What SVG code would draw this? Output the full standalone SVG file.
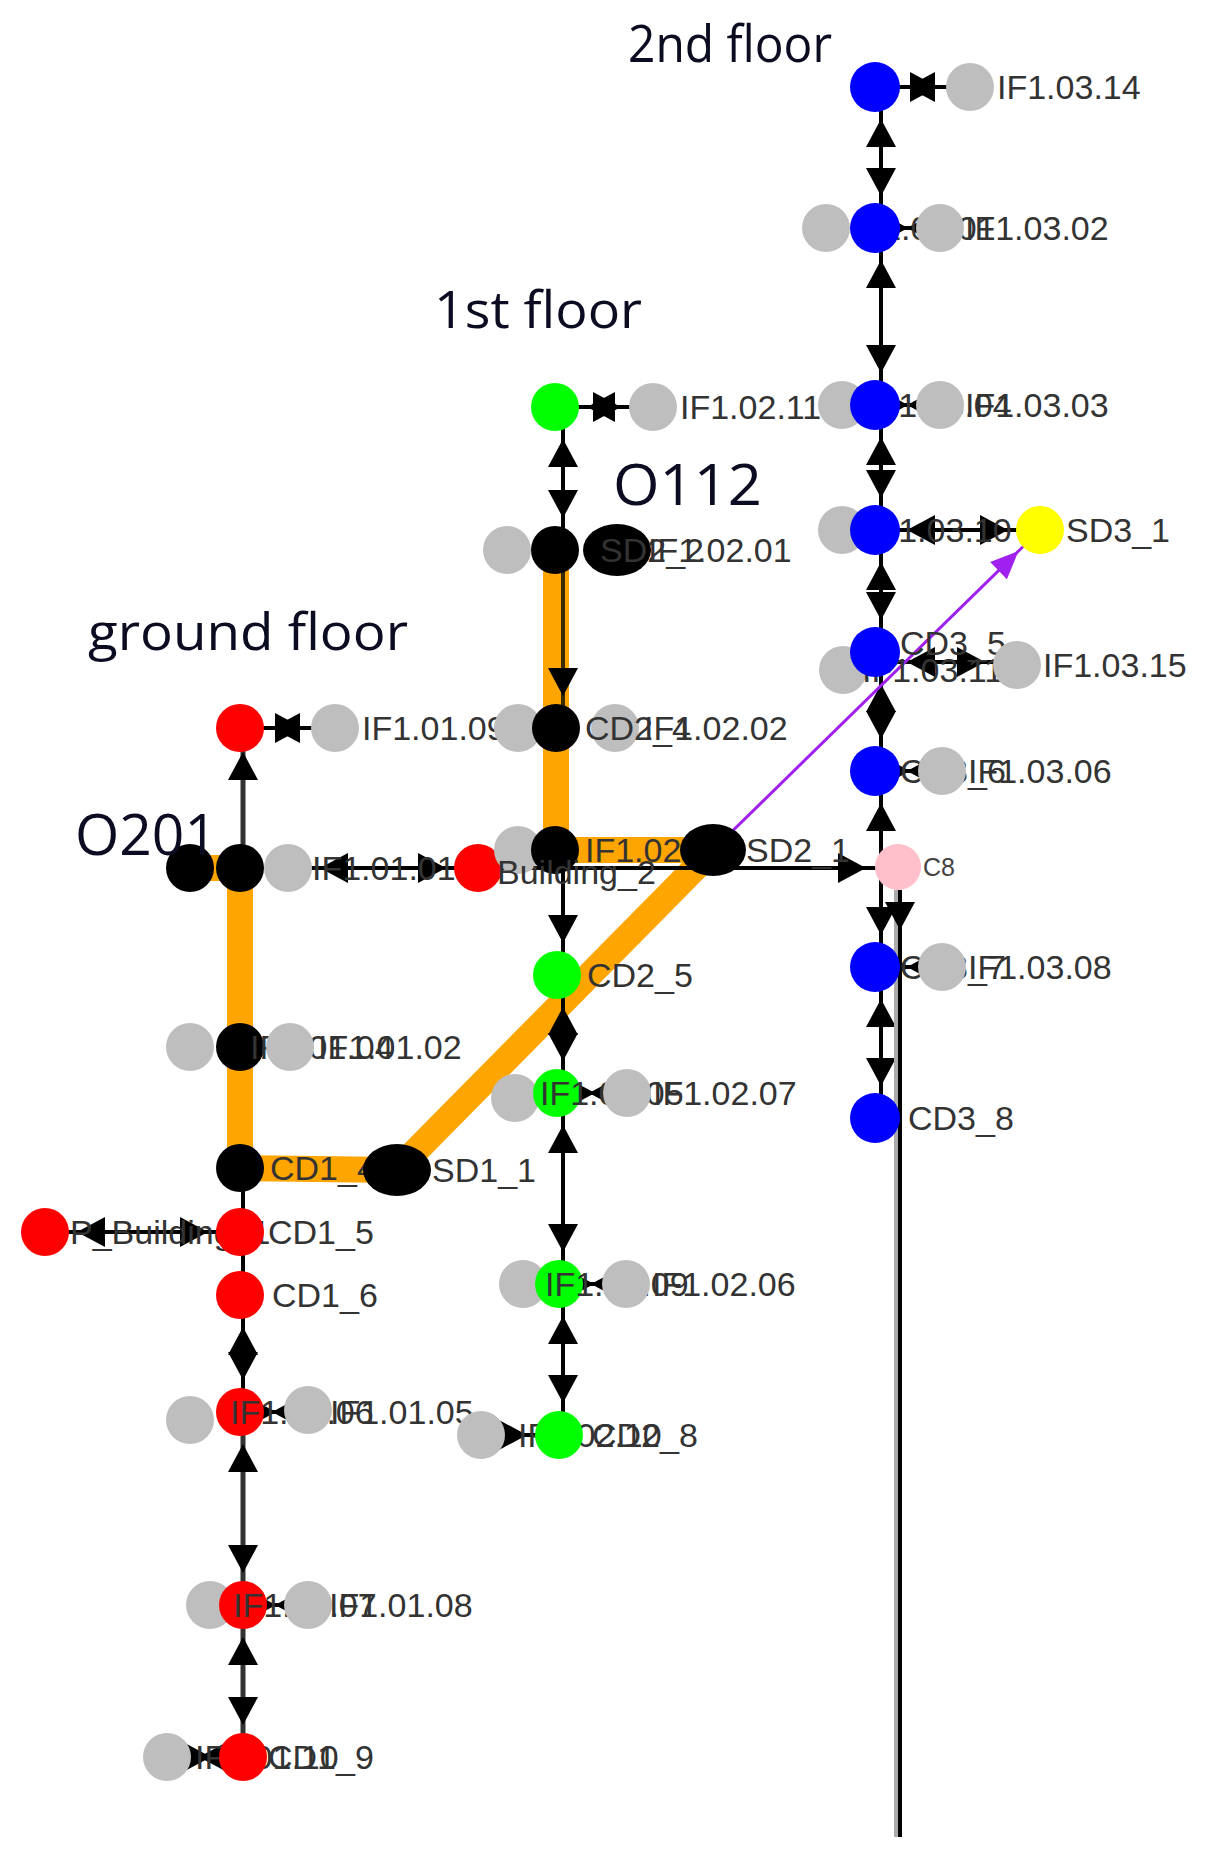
<svg xmlns="http://www.w3.org/2000/svg" width="1216" height="1864" viewBox="0 0 1216 1864">
<style>
.lb{font-family:"Liberation Sans",Arial,sans-serif;font-size:34px;fill:#333}
.sm{font-family:"Liberation Sans",Arial,sans-serif;font-size:25px;fill:#444}
.tt{font-family:"Open Sans","Liberation Sans",sans-serif;font-size:52px;fill:#0b0b22}
.big{font-size:56px}
.e{stroke:#000;stroke-width:4;fill:none}
.gy{fill:#bebebe}.bl{fill:#0000ff}.rd{fill:#ff0000}.gn{fill:#00ff00}.bk{fill:#000}.yl{fill:#ffff00}.pk{fill:#ffc0cb}
</style>
<defs>
<marker id="ah" markerUnits="userSpaceOnUse" markerWidth="80" markerHeight="80" refX="32" refY="0" orient="auto-start-reverse" overflow="visible"><path d="M0,0 L-28,-15 L-28,15 Z" fill="#000"/></marker>
<marker id="ap" markerUnits="userSpaceOnUse" markerWidth="80" markerHeight="80" refX="30" refY="0" orient="auto" overflow="visible"><path d="M0,0 L-28,-12 L-28,12 Z" fill="#a020f0"/></marker>
</defs>
<rect width="1216" height="1864" fill="#fff"/>
<g id="connectors">
<path d="M190,868 L240,868 L240,1168 L397,1170 L713,850 L556,850 L556,728 L556,550" stroke="#ffa500" stroke-width="26" fill="none" stroke-linejoin="round"/>
<path class="e" d="M881,87 V228" marker-start="url(#ah)" marker-end="url(#ah)"/>
<path class="e" d="M881,228 V405" marker-start="url(#ah)" marker-end="url(#ah)"/>
<path class="e" d="M881,405 V530" marker-start="url(#ah)" marker-end="url(#ah)"/>
<path class="e" d="M881,530 V652" marker-start="url(#ah)" marker-end="url(#ah)"/>
<path class="e" d="M881,652 V771" marker-start="url(#ah)" marker-end="url(#ah)"/>
<path class="e" d="M881,867 V771" marker-end="url(#ah)"/>
<path class="e" d="M881,867 V967" marker-end="url(#ah)"/>
<path class="e" d="M881,967 V1118" marker-start="url(#ah)" marker-end="url(#ah)"/>
<path d="M896,890 V1837" stroke="#aaa" stroke-width="4"/>
<path class="e" d="M900,890 V962" marker-end="url(#ah)"/>
<path class="e" d="M900,962 V1837"/>
<path class="e" d="M875,87 H970" marker-start="url(#ah)" marker-end="url(#ah)"/>
<path class="e" d="M875,228 H940" marker-start="url(#ah)" marker-end="url(#ah)"/>
<path class="e" d="M875,405 H940" marker-start="url(#ah)" marker-end="url(#ah)"/>
<path class="e" d="M875,530 H1040" marker-start="url(#ah)" marker-end="url(#ah)"/>
<path class="e" d="M875,662 H1017" marker-start="url(#ah)" marker-end="url(#ah)"/>
<path class="e" d="M875,771 H942" marker-start="url(#ah)" marker-end="url(#ah)"/>
<path class="e" d="M875,967 H942" marker-start="url(#ah)" marker-end="url(#ah)"/>
<path class="e" d="M478,868 H898" marker-end="url(#ah)"/>
<path d="M713,850 L1040,530" stroke="#a020f0" stroke-width="3" fill="none" marker-end="url(#ap)"/>
<path d="M243,868 V720" stroke="#333" stroke-width="5" fill="none" marker-end="url(#ah)"/>
<path class="e" d="M243,1168 V1295"/>
<path class="e" d="M243,1295 V1412" marker-start="url(#ah)" marker-end="url(#ah)"/>
<path d="M243,1412 V1605" stroke="#333" stroke-width="5" fill="none" marker-start="url(#ah)" marker-end="url(#ah)"/>
<path d="M243,1605 V1757" stroke="#333" stroke-width="5" fill="none" marker-start="url(#ah)" marker-end="url(#ah)"/>
<path class="e" d="M240,728 H335" marker-start="url(#ah)" marker-end="url(#ah)"/>
<path class="e" d="M288,868 H478" marker-start="url(#ah)" marker-end="url(#ah)"/>
<path class="e" d="M45,1232 H240" marker-start="url(#ah)" marker-end="url(#ah)"/>
<path class="e" d="M240,1412 H308" marker-start="url(#ah)" marker-end="url(#ah)"/>
<path class="e" d="M243,1605 H308" marker-start="url(#ah)" marker-end="url(#ah)"/>
<path class="e" d="M167,1757 H243" marker-start="url(#ah)" marker-end="url(#ah)"/>
<path class="e" d="M563,407 V550" marker-start="url(#ah)" marker-end="url(#ah)"/>
<path d="M563,550 V728" stroke="#3a2a00" stroke-width="4" fill="none" marker-end="url(#ah)"/>
<path class="e" d="M563,850 V975" marker-end="url(#ah)"/>
<path class="e" d="M563,975 V1093" marker-start="url(#ah)" marker-end="url(#ah)"/>
<path class="e" d="M563,1093 V1284" marker-start="url(#ah)" marker-end="url(#ah)"/>
<path class="e" d="M563,1284 V1435" marker-start="url(#ah)" marker-end="url(#ah)"/>
<path class="e" d="M555,407 H653" marker-start="url(#ah)" marker-end="url(#ah)"/>
<path class="e" d="M557,1093 H627" marker-start="url(#ah)" marker-end="url(#ah)"/>
<path class="e" d="M559,1284 H626" marker-start="url(#ah)" marker-end="url(#ah)"/>
<path class="e" d="M481,1435 H559" marker-end="url(#ah)"/>
</g>
<g id="n_CD3_1"><circle class="bl" cx="875" cy="87" r="25"/></g>
<g id="n_IF1_03_14"><circle class="gy" cx="970" cy="87" r="24"/><text class="lb" x="997" y="99">IF1.03.14</text></g>
<g id="n_IF1_03_01"><circle class="gy" cx="826" cy="228" r="24"/><text class="lb" x="852" y="240">IF1.03.01</text></g>
<g id="n_CD3_2"><circle class="bl" cx="875" cy="228" r="25"/></g>
<g id="n_IF1_03_02"><circle class="gy" cx="940" cy="228" r="24"/><text class="lb" x="965" y="240">IF1.03.02</text></g>
<g id="n_IF1_03_04"><circle class="gy" cx="842" cy="405" r="24"/><text class="lb" x="868" y="417">IF1.03.04</text></g>
<g id="n_CD3_3"><circle class="bl" cx="875" cy="405" r="25"/></g>
<g id="n_IF1_03_03"><circle class="gy" cx="940" cy="405" r="24"/><text class="lb" x="965" y="417">IF1.03.03</text></g>
<g id="n_IF1_03_10"><circle class="gy" cx="842" cy="530" r="24"/><text class="lb" x="868" y="542">IF1.03.10</text></g>
<g id="n_CD3_4"><circle class="bl" cx="875" cy="530" r="25"/></g>
<g id="n_SD3_1"><circle class="yl" cx="1040" cy="530" r="24"/><text class="lb" x="1066" y="542">SD3_1</text></g>
<g id="n_IF1_03_11"><circle class="gy" cx="843" cy="670" r="24"/><text class="lb" x="862" y="682">IF1.03.11</text></g>
<g id="n_CD3_5"><circle class="bl" cx="875" cy="652" r="25"/><text class="lb" x="900" y="655">CD3_5</text></g>
<g id="n_IF1_03_15"><circle class="gy" cx="1017" cy="665" r="24"/><text class="lb" x="1043" y="677">IF1.03.15</text></g>
<g id="n_CD3_6"><circle class="bl" cx="875" cy="771" r="25"/><text class="lb" x="900" y="783">CD3_6</text></g>
<g id="n_IF1_03_06"><circle class="gy" cx="942" cy="771" r="24"/><text class="lb" x="968" y="783">IF1.03.06</text></g>
<g id="n_C8"><circle class="pk" cx="898" cy="867" r="23"/><text class="sm" x="923" y="876">C8</text></g>
<g id="n_CD3_7"><circle class="bl" cx="875" cy="967" r="25"/><text class="lb" x="900" y="979">CD3_7</text></g>
<g id="n_IF1_03_08"><circle class="gy" cx="942" cy="967" r="24"/><text class="lb" x="968" y="979">IF1.03.08</text></g>
<g id="n_CD3_8"><circle class="bl" cx="875" cy="1118" r="25"/><text class="lb" x="908" y="1130">CD3_8</text></g>
<g id="n_CD1_1"><circle class="rd" cx="240" cy="728" r="24"/></g>
<g id="n_IF1_01_09"><circle class="gy" cx="335" cy="728" r="24"/><text class="lb" x="362" y="740">IF1.01.09</text></g>
<g id="n_O201a"><circle class="bk" cx="190" cy="868" r="24"/></g>
<g id="n_CD1_2"><circle class="bk" cx="240" cy="868" r="24"/></g>
<g id="n_IF1_01_01"><circle class="gy" cx="288" cy="868" r="24"/><text class="lb" x="312" y="880">IF1.01.01</text></g>
<g id="n_Building_1"><circle class="rd" cx="478" cy="868" r="24"/></g>
<g id="n_IF1_01_03"><circle class="gy" cx="190" cy="1047" r="24"/></g>
<g id="n_CD1_3"><circle class="bk" cx="240" cy="1047" r="24"/><text class="lb" x="250" y="1059">IF1.01.04</text></g>
<g id="n_IF1_01_02"><circle class="gy" cx="290" cy="1047" r="24"/><text class="lb" x="318" y="1059">IF1.01.02</text></g>
<g id="n_CD1_4"><circle class="bk" cx="240" cy="1168" r="24"/><text class="lb" x="270" y="1180">CD1_4</text></g>
<g id="n_SD1_1"><ellipse class="bk" cx="397" cy="1170" rx="34" ry="26"/><text class="lb" x="432" y="1182">SD1_1</text></g>
<g id="n_P_Building_1"><circle class="rd" cx="45" cy="1232" r="24"/><text class="lb" x="70" y="1244">P_Building_1</text></g>
<g id="n_CD1_5"><circle class="rd" cx="240" cy="1232" r="24"/><text class="lb" x="268" y="1244">CD1_5</text></g>
<g id="n_CD1_6"><circle class="rd" cx="240" cy="1295" r="24"/><text class="lb" x="272" y="1307">CD1_6</text></g>
<g id="n_IF1_01_06g"><circle class="gy" cx="190" cy="1420" r="24"/></g>
<g id="n_CD1_7"><circle class="rd" cx="240" cy="1412" r="24"/><text class="lb" x="230" y="1424">IF1.01.06</text></g>
<g id="n_IF1_01_05"><circle class="gy" cx="308" cy="1410" r="24"/><text class="lb" x="330" y="1424">IF1.01.05</text></g>
<g id="n_IF1_01_07g"><circle class="gy" cx="210" cy="1605" r="24"/></g>
<g id="n_CD1_8"><circle class="rd" cx="243" cy="1605" r="24"/><text class="lb" x="233" y="1617">IF1.01.07</text></g>
<g id="n_IF1_01_08"><circle class="gy" cx="308" cy="1605" r="24"/><text class="lb" x="329" y="1617">IF1.01.08</text></g>
<g id="n_IF1_01_10"><circle class="gy" cx="167" cy="1757" r="24"/><text class="lb" x="195" y="1769">IF1.01.10</text></g>
<g id="n_CD1_9"><circle class="rd" cx="243" cy="1757" r="24"/><text class="lb" x="268" y="1769">CD1_9</text></g>
<g id="n_CD2_1"><circle class="gn" cx="555" cy="407" r="24"/></g>
<g id="n_IF1_02_11"><circle class="gy" cx="653" cy="407" r="24"/><text class="lb" x="680" y="419">IF1.02.11</text></g>
<g id="n_IF1_02_00"><circle class="gy" cx="507" cy="550" r="24"/></g>
<g id="n_CD2_2"><circle class="bk" cx="555" cy="550" r="24"/></g>
<g id="n_SD2_2"><ellipse class="bk" cx="617" cy="550" rx="34" ry="26"/><text class="lb" x="600" y="562">SD2_2</text><text class="lb" x="648" y="562">IF1.02.01</text></g>
<g id="n_IF1_02_04"><circle class="gy" cx="518" cy="728" r="24"/></g>
<g id="n_CD2_3"><circle class="bk" cx="556" cy="728" r="24"/></g>
<g id="n_IF1_02_02"><circle class="gy" cx="615" cy="728" r="24"/><text class="lb" x="585" y="740">CD2_4</text><text class="lb" x="644" y="740">IF1.02.02</text></g>
<g id="n_IF1_02_03"><circle class="gy" cx="518" cy="850" r="24"/></g>
<g id="n_CD2_4"><circle class="bk" cx="555" cy="850" r="24"/><text class="lb" x="585" y="862">IF1.02.03</text><text class="lb" x="497" y="884">Building_2</text></g>
<g id="n_SD2_1"><ellipse class="bk" cx="713" cy="850" rx="33" ry="26"/><text class="lb" x="746" y="862">SD2_1</text></g>
<g id="n_CD2_5"><circle class="gn" cx="557" cy="975" r="24"/><text class="lb" x="587" y="987">CD2_5</text></g>
<g id="n_IF1_02_05"><circle class="gy" cx="515" cy="1098" r="24"/></g>
<g id="n_CD2_6"><circle class="gn" cx="557" cy="1093" r="24"/><text class="lb" x="540" y="1105">IF1.02.05</text></g>
<g id="n_IF1_02_07"><circle class="gy" cx="627" cy="1093" r="24"/><text class="lb" x="653" y="1105">IF1.02.07</text></g>
<g id="n_IF1_02_09"><circle class="gy" cx="523" cy="1284" r="24"/></g>
<g id="n_CD2_7"><circle class="gn" cx="559" cy="1284" r="24"/><text class="lb" x="545" y="1296">IF1.02.09</text></g>
<g id="n_IF1_02_06"><circle class="gy" cx="626" cy="1284" r="24"/><text class="lb" x="652" y="1296">IF1.02.06</text></g>
<g id="n_IF1_02_10"><circle class="gy" cx="481" cy="1435" r="24"/><text class="lb" x="518" y="1447">IF1.02.10</text></g>
<g id="n_CD2_8"><circle class="gn" cx="559" cy="1435" r="24"/><text class="lb" x="592" y="1447">CD2_8</text></g>
<g id="titles">
<text class="tt" x="628" y="62" textLength="204" lengthAdjust="spacingAndGlyphs">2nd floor</text>
<text class="tt" x="434" y="328" textLength="208" lengthAdjust="spacingAndGlyphs">1st floor</text>
<text class="tt" x="88" y="650" textLength="320" lengthAdjust="spacingAndGlyphs">ground floor</text>
<text class="tt big" x="613" y="505" textLength="149" lengthAdjust="spacingAndGlyphs">O112</text>
<text class="tt big" x="75" y="855" textLength="142" lengthAdjust="spacingAndGlyphs">O201</text>
</g>
</svg>
